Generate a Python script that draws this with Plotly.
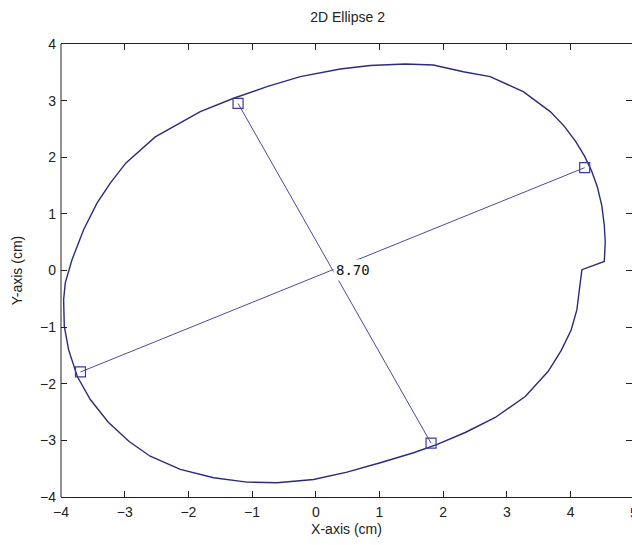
import numpy as np
import plotly.graph_objects as go

# Outline of the fitted shape, traced clockwise from the top (cm)
outline_x = [1.405, 1.845, 2.316, 2.739, 3.258, 3.681, 3.900, 4.080, 4.220, 4.330,
             4.420, 4.490, 4.530, 4.545, 4.530, 4.179, 4.152, 4.100, 4.010, 3.850,
             3.650, 3.289, 2.818, 2.347, 1.907, 1.535, 1.013, 0.490, -0.035, -0.609,
             -1.080, -1.604, -2.127, -2.600, -2.930, -3.257, -3.540, -3.744, -3.881,
             -3.948, -3.959, -3.932, -3.827, -3.645, -3.435, -3.226, -2.980, -2.520,
             -1.813, -1.290, -0.766, -0.243, 0.385, 0.856, 1.405]
outline_y = [3.647, 3.630, 3.511, 3.423, 3.159, 2.806, 2.550, 2.280, 2.020, 1.760,
             1.480, 1.150, 0.800, 0.500, 0.160, 0.014, -0.220, -0.691, -1.050, -1.420,
             -1.780, -2.226, -2.596, -2.861, -3.072, -3.219, -3.395, -3.561, -3.690, -3.748,
             -3.737, -3.660, -3.513, -3.280, -3.020, -2.680, -2.279, -1.873, -1.397,
             -0.986, -0.515, -0.215, 0.190, 0.720, 1.190, 1.543, 1.900, 2.360,
             2.806, 3.042, 3.247, 3.423, 3.559, 3.621, 3.647]

# Principal axes: crossing point, major length/direction, minor end points
axis_center = (0.264, 0.012)
major_length = 8.70
major_angle_deg = 24.5
minor_x = [-1.22, 1.81]
minor_y = [2.95, -3.05]

x_ticks = [-4, -3, -2, -1, 0, 1, 2, 3, 4]
y_ticks = [-4, -3, -2, -1, 0, 1, 2, 3, 4]
x_range = [-4, 4.965]
y_range = [-4, 4]
next_x_tick = 5

FONT = "Liberation Sans, Arial, sans-serif"
CURVE = "#2b2b7c"
AXLINE = "#4a4a9c"
INK = "#222"

a = np.deg2rad(major_angle_deg)
half = 0.5 * major_length
major_x = [axis_center[0] - half * np.cos(a), axis_center[0] + half * np.cos(a)]
major_y = [axis_center[1] - half * np.sin(a), axis_center[1] + half * np.sin(a)]

fig = go.Figure()
fig.add_trace(go.Scatter(x=outline_x, y=outline_y, mode="lines",
                         line=dict(color=CURVE, width=1.4), hoverinfo="skip"))
for ex, ey in [(major_x, major_y), (minor_x, minor_y)]:
    fig.add_trace(go.Scatter(x=ex, y=ey, mode="lines+markers",
                             line=dict(color=AXLINE, width=1),
                             marker=dict(symbol="square-open", size=10,
                                         color="#3a3aa6", line=dict(width=1.2)),
                             hoverinfo="skip"))

fig.add_annotation(x=axis_center[0], y=axis_center[1], xref="x", yref="y",
                   text=f"{major_length:.2f}", showarrow=False,
                   xanchor="left", yanchor="middle", bgcolor="white", borderpad=2,
                   font=dict(family="DejaVu Sans Mono, monospace", size=14, color="#111"))
# tick label just past the right edge, only partly on the canvas
fig.add_annotation(x=(next_x_tick - x_range[0]) / (x_range[1] - x_range[0]), y=0,
                   xref="paper", yref="paper", yshift=-6, text=str(next_x_tick),
                   showarrow=False, xanchor="center", yanchor="top",
                   font=dict(family=FONT, size=14, color=INK))

# left border drawn separately so the right side only carries ticks
fig.add_shape(type="line", xref="paper", yref="paper", x0=0, x1=0, y0=0, y1=1,
              line=dict(color=INK, width=1))

axis_common = dict(ticks="inside", ticklen=6, tickcolor=INK, tickwidth=1,
                   showgrid=False, zeroline=False,
                   tickfont=dict(family=FONT, size=14, color=INK))
fig.update_xaxes(range=x_range, tickvals=x_ticks, showline=True, linecolor=INK,
                 linewidth=1, mirror="ticks", ticklabelstandoff=2,
                 title=dict(text="X-axis (cm)", standoff=5,
                            font=dict(family=FONT, size=14, color=INK)),
                 **axis_common)
fig.update_yaxes(range=y_range, tickvals=y_ticks, showline=False, mirror="ticks",
                 ticklabelstandoff=4,
                 title=dict(text="Y-axis (cm)", standoff=14,
                            font=dict(family=FONT, size=14, color=INK)),
                 **axis_common)

fig.update_layout(
    width=632, height=545,
    margin=dict(l=61, r=0, t=44, b=48),
    paper_bgcolor="white", plot_bgcolor="white",
    showlegend=False,
    title=dict(text="2D Ellipse 2", x=0.55, xanchor="center",
               y=1 - 17 / 545, yanchor="middle",
               font=dict(family=FONT, size=14, color=INK)),
)

fig.write_html("out.html")
